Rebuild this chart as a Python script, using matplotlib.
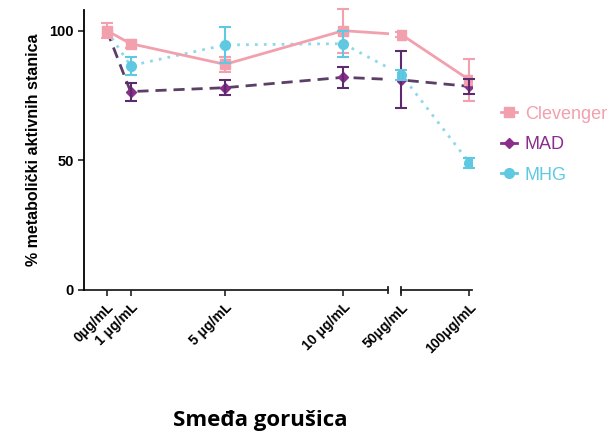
import numpy as np
import matplotlib.pyplot as plt
from matplotlib.lines import Line2D

plt.rcParams['font.family'] = ['Liberation Sans', 'DejaVu Sans']

doze = [0, 1, 5, 10, 50, 100]
oznake = ['0μg/mL', '1 μg/mL', '5 μg/mL', '10 μg/mL', '50μg/mL', '100μg/mL']

clevenger = [100, 95, 87, 100, 98.5, 81]
clevenger_err = [3, 1.5, 3, 8.5, 1, 8]
mad = [100, 76.5, 78, 82, 81, 78.5]
mad_err = [0, 3.5, 3, 4, 11, 3]
mhg = [100, 86.5, 94.5, 95, 83, 49]
mhg_err = [0, 3.5, 7, 5, 2, 2]

roza = '#F2A0AE'
ljub = '#8A2D8C'
ljub_linija = '#5B3F66'
plava = '#5FC9E2'


def pozicija(c):
    # prekinuta x os: 0-10 linearno, pa 50-100 stisnuto
    c = np.asarray(c, dtype=float)
    return np.where(c <= 10, c, 12.46 + (c - 50) * 0.0576)


x = pozicija(doze)

fig = plt.figure(figsize=(6.13, 4.32), dpi=100)
ax = fig.add_axes([0.137, 0.329, 0.633, 0.648])

ax.plot(x, mad, color=ljub_linija, lw=2, ls=(0, (4, 2.5)), zorder=2)
ax.plot(x, mad, ls='none', color=ljub, marker='D', ms=5.5, zorder=2.5)
ax.plot(x, mhg, color='#8FD8EA', lw=2, ls=(0, (1, 2.2)), zorder=2)
ax.plot(x, mhg, ls='none', color=plava, marker='o', ms=7, zorder=2.5)
ax.plot(x, clevenger, color=roza, lw=2, marker='s', ms=7, zorder=2.6)

ax.errorbar(x, clevenger, yerr=clevenger_err, fmt='none', ecolor=roza,
            elinewidth=1.5, capsize=4, capthick=1.5, zorder=4, clip_on=False)
ax.errorbar(x[1:], mad[1:], yerr=mad_err[1:], fmt='none', ecolor='#5E2A6E',
            elinewidth=1.5, capsize=4, capthick=1.5, zorder=4, clip_on=False)
ax.errorbar(x[1:], mhg[1:], yerr=mhg_err[1:], fmt='none', ecolor=plava,
            elinewidth=1.5, capsize=4, capthick=1.5, zorder=4, clip_on=False)

# prekid linija na mjestu prekida osi
ax.axvspan(11.93, 12.28, color='white', zorder=3, lw=0)

ax.set_xlim(-0.97, 15.45)
ax.set_ylim(0, 108)
ax.set_yticks([0, 50, 100])
ax.set_xticks(x)
ax.set_xticklabels(oznake, rotation=45, ha='right', va='top',
                   rotation_mode='anchor', fontsize=10, fontweight='bold')
for t in ax.get_yticklabels():
    t.set_fontweight('bold')
    t.set_fontsize(10.5)
ax.tick_params(direction='out', length=4, width=1.2, color='#222222')

for s in ['top', 'right', 'bottom']:
    ax.spines[s].set_visible(False)
ax.spines['left'].set_linewidth(1.3)

tr = ax.get_xaxis_transform()
ax.plot([-0.97, 11.9], [0, 0], color='#222222', lw=1.3, transform=tr, clip_on=False)
ax.plot([12.46, 15.45], [0, 0], color='#222222', lw=1.3, transform=tr, clip_on=False)
ax.plot([11.9, 11.9], [-0.012, 0.012], color='#222222', lw=1.3, transform=tr, clip_on=False)
ax.plot([12.46, 12.46], [-0.012, 0.012], color='#222222', lw=1.3, transform=tr, clip_on=False)

ax.set_ylabel('% metabolički aktivnih stanica', fontsize=11.5, fontweight='bold',
              labelpad=6)

ruke = [
    Line2D([], [], color=roza, marker='s', ms=7, lw=2),
    Line2D([], [], color=ljub, marker='D', ms=5.5, lw=2),
    Line2D([], [], color=plava, marker='o', ms=7, lw=2),
]
fig.legend(ruke, ['Clevenger', 'MAD', 'MHG'], loc='upper left',
           bbox_to_anchor=(0.79, 0.793), frameon=False, handlelength=0.9,
           handletextpad=0.45, labelspacing=0.75, fontsize=13,
           labelcolor=[roza, ljub, plava])

fig.text(0.425, 0.003, 'Smeđa gorušica', ha='center', va='bottom',
         fontsize=16, fontweight='bold', family='Open Sans')

fig.savefig('out.png', dpi=100)
